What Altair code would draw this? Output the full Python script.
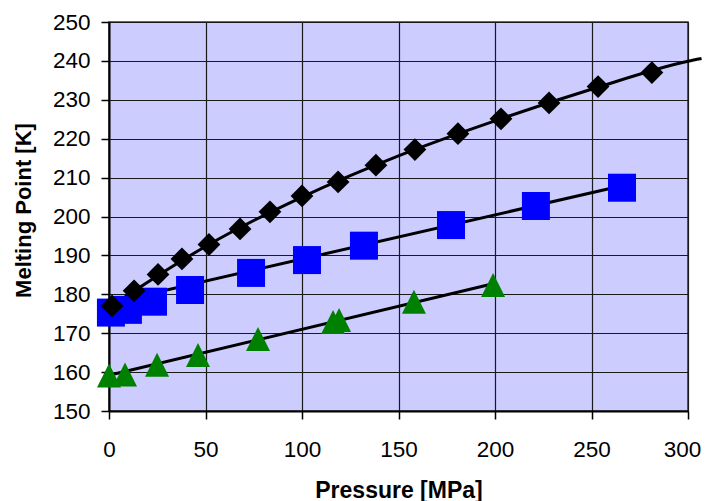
import altair as alt
import pandas as pd

# Black diamonds series
dia_p = [1.6, 13.0, 25.4, 37.8, 51.8, 67.9, 83.4, 100.0, 118.7, 138.3, 158.5, 180.8, 203.1, 228.0, 253.4, 281.3]
dia_t = [177.0, 180.9, 185.1, 189.1, 192.8, 196.8, 201.2, 205.3, 208.9, 213.2, 217.2, 221.3, 225.1, 229.2, 233.4, 237.0]
# Blue squares series
sq_p = [1.0, 9.8, 22.8, 42.0, 73.6, 102.6, 132.1, 177.2, 221.2, 265.8]
sq_t = [175.3, 176.0, 178.1, 181.1, 185.5, 188.8, 192.5, 197.8, 202.7, 207.4]
# Green triangles series
tri_p = [0.0, 8.3, 24.9, 46.1, 77.2, 116.1, 119.2, 158.0, 199.0]
tri_t = [159.1, 159.4, 161.9, 164.4, 168.5, 172.9, 173.4, 178.1, 182.4]

# Trend lines
bl_p = [0, 50, 100, 150, 200, 250, 300, 307]
bl_t = [176.6, 192.3, 205.0, 215.6, 224.6, 232.7, 239.9, 240.6]
bu_p = [0, 265.8]
bu_t = [177.7, 207.9]
gr_p = [0, 199.0]
gr_t = [159.2, 182.7]

x_ticks = [0, 50, 100, 150, 200, 250, 300]
y_ticks = [150, 160, 170, 180, 190, 200, 210, 220, 230, 240, 250]

FONT = "Liberation Sans"

xs = alt.Scale(domain=[0, 300], nice=False, zero=False)
ys = alt.Scale(domain=[150, 250], nice=False, zero=False)

xax = alt.Axis(
    values=x_ticks, title="Pressure [MPa]", grid=True, gridColor="#1a1a1a", gridWidth=1.2,
    domainColor="#000", domainWidth=2, tickColor="#000", tickWidth=1.5, tickSize=8,
    labelFont=FONT, labelFontSize=22.5, labelColor="#000", labelPadding=37,
    labelBaseline="alphabetic", labelFlush=False,
    labelOffset={"condition": {"test": "datum.value == 300", "value": -6}, "value": 0},
    titleFont=FONT, titleFontSize=23, titleFontWeight="bold", titleColor="#000",
    titleBaseline="alphabetic", titleY=86, titleX=289.5, titleAlign="center",
)
yax = alt.Axis(
    values=y_ticks, title="Melting Point [K]", grid=True, gridColor="#1a1a1a", gridWidth=1.2,
    domainColor="#000", domainWidth=2, tickColor="#000", tickWidth=1.5, tickSize=8,
    labelFont=FONT, labelFontSize=22.5, labelColor="#000", labelPadding=11,
    labelFlush=False,
    titleFont=FONT, titleFontSize=22, titleFontWeight="bold", titleColor="#000",
    titleAngle=270, titleBaseline="alphabetic", titleAlign="center",
    titleX=-79, titleY=188,
)

def enc(df):
    return dict(
        x=alt.X("p:Q", scale=xs, axis=xax),
        y=alt.Y("t:Q", scale=ys, axis=yax),
    )

df_dia = pd.DataFrame({"p": dia_p, "t": dia_t})
df_sq = pd.DataFrame({"p": sq_p, "t": sq_t})
df_tri = pd.DataFrame({"p": tri_p, "t": tri_t})
df_bl = pd.DataFrame({"p": bl_p, "t": bl_t})
df_bu = pd.DataFrame({"p": bu_p, "t": bu_t})
df_gr = pd.DataFrame({"p": gr_p, "t": gr_t})

line_black = alt.Chart(df_bl).mark_line(color="#000", strokeWidth=3, interpolate="monotone", clip=False).encode(**enc(df_bl))
line_blue = alt.Chart(df_bu).mark_line(color="#000", strokeWidth=3).encode(**enc(df_bu))
line_green = alt.Chart(df_gr).mark_line(color="#000", strokeWidth=3).encode(**enc(df_gr))

squares = alt.Chart(df_sq).mark_point(shape="square", filled=True, size=784, color="#0000FF", opacity=1).encode(**enc(df_sq))
triangles = alt.Chart(df_tri).mark_point(shape="M0,-1L1,1L-1,1Z", filled=True, size=576, color="#008000", opacity=1).encode(**enc(df_tri))
diamonds = alt.Chart(df_dia).mark_point(shape="diamond", filled=True, size=520, color="#000000", opacity=1).encode(**enc(df_dia))

chart = alt.layer(line_black, line_blue, line_green, squares, triangles, diamonds).properties(
    width=579,
    height=389,
    padding={"left": 101, "top": 14, "right": 14, "bottom": 90},
    autosize=alt.AutoSizeParams(type="none"),
    background="#ffffff",
).configure_view(
    fill="#CCCCFF", stroke="#333333", strokeWidth=1.5
)

chart.save("out.html", embed_options={"renderer": "svg", "actions": False})
